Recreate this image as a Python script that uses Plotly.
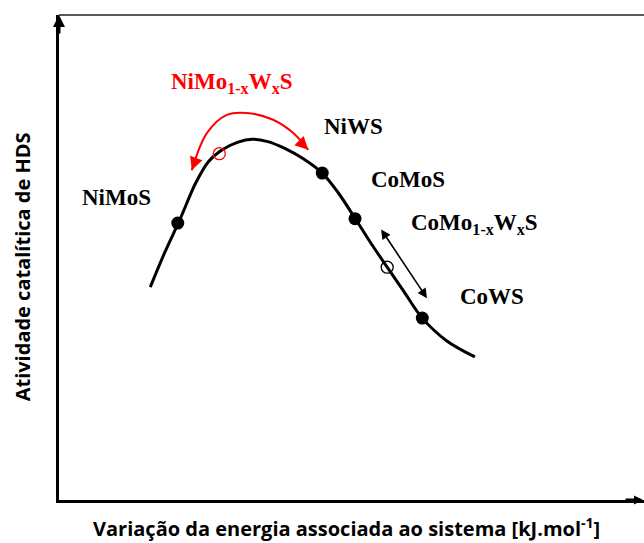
import plotly.graph_objects as go

# Volcano curve (conceptual), x: energy variation (0-100), y: HDS activity (0-100)
curve_x = [15.6, 18.1, 20.7, 23.3, 25.5, 27.9, 30.6, 33.0, 35.7, 38.6, 41.7, 45.0,
           47.7, 50.6, 53.3, 56.1, 59.0, 62.1, 66.3, 71.1]
curve_y = [43.9, 51.1, 57.9, 65.2, 69.7, 72.2, 73.8, 74.4, 73.9, 72.5, 70.4, 67.4,
           63.4, 58.1, 53.0, 48.0, 42.9, 37.5, 32.8, 29.5]

# Catalysts on the curve
solid_names = ["NiMoS", "NiWS", "CoMoS", "CoWS"]
solid_x = [20.3, 45.0, 50.6, 62.1]
solid_y = [57.1, 67.4, 58.0, 37.5]

open_names = ["NiMo1-xWxS", "CoMo1-xWxS"]
open_x = [27.4, 56.1]
open_y = [71.4, 48.0]
open_colors = ["red", "black"]

# Labels
label_text = ["NiMoS", "NiWS", "CoMoS", "CoMo<sub>1-x</sub>W<sub>x</sub>S", "CoWS",
              "NiMo<sub>1-x</sub>W<sub>x</sub>S"]
label_x = [9.9, 50.3, 59.7, 71.1, 74.0, 29.6]
label_y = [62.3, 77.1, 66.0, 56.9, 41.9, 86.0]
label_color = ["black", "black", "black", "black", "black", "red"]

# Red curved double arrow
arc_x = [22.7, 25.3, 28.7, 32.1, 36.6, 40.0, 42.6]
arc_y = [68.0, 75.7, 79.4, 79.8, 78.4, 75.7, 72.2]

# Black straight double arrow
arrow_x = [54.9, 62.9]
arrow_y = [56.1, 41.6]

x_title = "Variação da energia associada ao sistema [kJ.mol<sup>-1</sup>]"
y_title = "Atividade catalítica de HDS"

fig = go.Figure()

fig.add_trace(go.Scatter(x=curve_x, y=curve_y, mode="lines",
                         line=dict(color="black", width=3, shape="spline", smoothing=0.9),
                         hoverinfo="skip", showlegend=False))

fig.add_trace(go.Scatter(x=arc_x, y=arc_y, mode="lines",
                         line=dict(color="red", width=2, shape="spline", smoothing=1),
                         hoverinfo="skip", showlegend=False))

fig.add_trace(go.Scatter(x=solid_x, y=solid_y, mode="markers", text=solid_names,
                         marker=dict(color="black", size=13, line=dict(width=0)),
                         showlegend=False))

fig.add_trace(go.Scatter(x=open_x, y=open_y, mode="markers", text=open_names,
                         marker=dict(color="rgba(0,0,0,0)", size=12,
                                     line=dict(color=open_colors, width=1.3)),
                         showlegend=False))

serif = "Liberation Serif, Times New Roman, serif"
for t, x, y, c in zip(label_text, label_x, label_y, label_color):
    fig.add_annotation(x=x, y=y, text="<b>" + t + "</b>", showarrow=False,
                       font=dict(family=serif, size=23, color=c),
                       xanchor="center", yanchor="middle")

# arrowheads of the red arc
fig.add_annotation(x=arc_x[0], y=arc_y[0], ax=4, ay=-11, text="", showarrow=True,
                   arrowhead=2, arrowsize=1.3, arrowwidth=2, arrowcolor="red")
fig.add_annotation(x=arc_x[-1], y=arc_y[-1], ax=-9, ay=-9, text="", showarrow=True,
                   arrowhead=2, arrowsize=1.3, arrowwidth=2, arrowcolor="red")

# black double arrow
fig.add_annotation(x=arrow_x[1], y=arrow_y[1], ax=arrow_x[0], ay=arrow_y[0],
                   axref="x", ayref="y", xref="x", yref="y", text="", showarrow=True,
                   arrowhead=2, startarrowhead=2, arrowside="end+start",
                   arrowsize=1.2, startarrowsize=1.2, arrowwidth=1.6, arrowcolor="black")

# axis arrows
fig.add_annotation(x=0, y=1, xref="paper", yref="paper", ax=0, ay=20, text="",
                   showarrow=True, arrowhead=2, arrowsize=0.8, arrowwidth=3,
                   arrowcolor="black")
fig.add_annotation(x=1, y=0, xref="paper", yref="paper", ax=-20, ay=0, text="",
                   showarrow=True, arrowhead=2, arrowsize=0.6, arrowwidth=3,
                   arrowcolor="black")

# top frame line
fig.add_shape(type="line", xref="paper", yref="paper", x0=0, x1=1, y0=1, y1=1,
              line=dict(color="#222", width=1.5))

sans = "Open Sans, Noto Sans, sans-serif"
fig.add_annotation(x=0.492, y=-0.056, xref="paper", yref="paper", text="<b>" + x_title + "</b>",
                   showarrow=False, font=dict(family=sans, size=20, color="black"),
                   xanchor="center", yanchor="middle")
fig.add_annotation(x=-0.063, y=0.48, xref="paper", yref="paper", text="<b>" + y_title + "</b>",
                   showarrow=False, textangle=-90,
                   font=dict(family=sans, size=20, color="black"),
                   xanchor="center", yanchor="middle")

fig.update_xaxes(range=[0, 100], showgrid=False, zeroline=False, showticklabels=False,
                 ticks="", showline=True, linecolor="black", linewidth=3)
fig.update_yaxes(range=[0, 100], showgrid=False, zeroline=False, showticklabels=False,
                 ticks="", showline=True, linecolor="black", linewidth=3)

fig.update_layout(width=644, height=543, margin=dict(l=59, r=0, t=15, b=43),
                  plot_bgcolor="white", paper_bgcolor="white", showlegend=False)

fig.write_html("out.html")
